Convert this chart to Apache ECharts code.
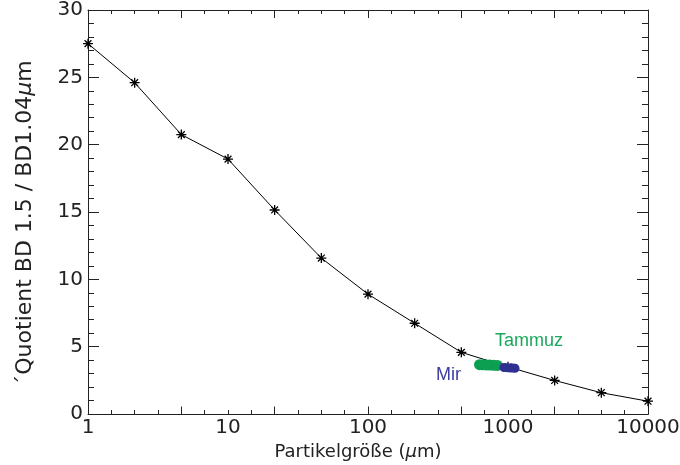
<!DOCTYPE html>
<html><head><meta charset="utf-8">
<script src="https://cdn.jsdelivr.net/npm/echarts@6/dist/echarts.min.js"></script>
<style>html,body{margin:0;padding:0;background:#fff}#c{width:680px;height:465px}</style>
</head><body><div id="c"></div>
<script>
// ---- data ----
const particleSizes = [1, 2.154, 4.642, 10, 21.54, 46.42, 100, 215.4, 464.2, 1000, 2154, 4642, 10000];
const quotientValues = [27.5, 24.6, 20.75, 18.93, 15.15, 11.58, 8.9, 6.74, 4.58, 3.5, 2.49, 1.58, 0.95];
const tammuzX = [626, 660, 700, 740, 790, 841];
const tammuzY = [3.66, 3.65, 3.64, 3.63, 3.62, 3.61];
const mirX = [936, 980, 1030, 1080, 1122];
const mirY = [3.45, 3.44, 3.42, 3.41, 3.40];
const xTickLabels = [1, 10, 100, 1000, 10000];
const yTickValues = [0, 5, 10, 15, 20, 25, 30];
// x tick marks: 6 small steps per decade over 4 decades, long mark every 4 steps
const xTickSteps = 24, xMajorEvery = 4;
const xStepNames = Array.from({length: xTickSteps + 1}, (_, i) => String(i));

const zip = (a, b) => a.map((v, i) => [v, b[i]]);
const FONT = "'DejaVu Sans', sans-serif";
const AX = '#222';
const asterisk = 'path://M5,0L5,10M0,5L10,5M1.6,1.6L8.4,8.4M1.6,8.4L8.4,1.6';

const chart = echarts.init(document.getElementById('c'), null, {renderer: 'canvas'});
chart.setOption({
  animation: false,
  backgroundColor: '#fff',
  grid: {left: 88, right: 32, top: 10, bottom: 51, outerBoundsMode: 'none'},
  xAxis: [
    {
      type: 'log', logBase: 10, min: xTickLabels[0], max: xTickLabels[xTickLabels.length - 1],
      position: 'bottom',
      axisLine: {show: true, onZero: false, lineStyle: {color: AX, width: 1}},
      axisTick: {show: false}, splitLine: {show: false}, minorTick: {show: false},
      axisLabel: {
        show: true, margin: 4, color: AX, fontFamily: FONT, fontSize: 20,
        showMinLabel: true, showMaxLabel: true,
        formatter: v => {
          const r = Math.round(v);
          return xTickLabels.indexOf(r) >= 0 ? String(r) : '';
        }
      },
      name: 'Partikelgröße ({i|μ}m)', nameLocation: 'middle', nameGap: 25,
      nameTextStyle: {color: AX, fontFamily: FONT, fontSize: 18, padding: [0, 20, 0, 0],
        rich: {i: {fontStyle: 'italic', fontFamily: FONT, fontSize: 18, color: AX}}}
    },
    {type: 'value', position: 'bottom', min: 0, max: xTickSteps, interval: 1, offset: 0,
     axisLine: {show: false, onZero: false}, splitLine: {show: false},
     axisLabel: {show: true, color: 'rgba(0,0,0,0)', fontSize: 6},
     axisTick: {show: true, inside: true, length: 4, lineStyle: {color: AX}}},
    {type: 'value', position: 'bottom', min: 0, max: xTickSteps, interval: xMajorEvery, offset: 0.5,
     axisLine: {show: false, onZero: false}, splitLine: {show: false},
     axisLabel: {show: false},
     axisTick: {show: true, inside: true, length: 8, lineStyle: {color: AX}}},
    {type: 'value', position: 'top', min: 0, max: xTickSteps, interval: 1, offset: 0,
     axisLine: {show: true, onZero: false, lineStyle: {color: AX}}, splitLine: {show: false},
     axisLabel: {show: false},
     axisTick: {show: true, inside: true, length: 4, lineStyle: {color: AX}}},
    {type: 'category', position: 'top', data: xStepNames, boundaryGap: false, offset: 0,
     axisLine: {show: false, onZero: false}, splitLine: {show: false},
     axisLabel: {show: false},
     axisTick: {show: true, inside: true, length: 8, interval: xMajorEvery - 1, lineStyle: {color: AX}}}
  ],
  yAxis: [
    {
      type: 'value', position: 'left', min: yTickValues[0], max: yTickValues[yTickValues.length - 1], interval: 5,
      axisLine: {show: true, onZero: false, lineStyle: {color: AX, width: 1}},
      axisTick: {show: true, inside: true, length: 11, lineStyle: {color: AX}},
      minorTick: {show: true, splitNumber: 5, length: 6, lineStyle: {color: AX}},
      splitLine: {show: false},
      axisLabel: {margin: 5, color: AX, fontFamily: FONT, fontSize: 20},
      name: '´Quotient BD 1.5 / BD1.04{i|μ}m', nameLocation: 'middle', nameGap: 52, nameRotate: 90,
      nameTextStyle: {color: AX, fontFamily: FONT, fontSize: 22, padding: [0, 22, 0, 0],
        rich: {i: {fontStyle: 'italic', fontFamily: FONT, fontSize: 22, color: AX}}}
    },
    {
      type: 'value', position: 'right', min: 0, max: 30, interval: 5,
      axisLine: {show: true, onZero: false, lineStyle: {color: AX, width: 1}},
      axisTick: {show: true, inside: true, length: 11, lineStyle: {color: AX}},
      minorTick: {show: true, splitNumber: 5, length: 6, lineStyle: {color: AX}},
      splitLine: {show: false}, axisLabel: {show: false}
    }
  ],
  series: [
    {
      type: 'line', xAxisIndex: 0, yAxisIndex: 0,
      data: zip(particleSizes, quotientValues),
      symbol: asterisk, symbolSize: 10, showAllSymbol: true,
      lineStyle: {color: '#000', width: 1},
      itemStyle: {color: '#000', borderColor: '#000', borderWidth: 1.3},
      z: 3
    },
    {
      name: 'Tammuz', type: 'scatter', xAxisIndex: 0, yAxisIndex: 0,
      data: zip(tammuzX, tammuzY), symbol: 'circle', symbolSize: 11,
      itemStyle: {color: '#0c9f52', opacity: 1}, z: 5
    },
    {
      name: 'Mir', type: 'scatter', xAxisIndex: 0, yAxisIndex: 0,
      data: zip(mirX, mirY), symbol: 'circle', symbolSize: 9,
      itemStyle: {color: '#2e3192', opacity: 1}, z: 5
    },
    {type: 'line', xAxisIndex: 3, yAxisIndex: 0, data: [], silent: true}
  ],
  graphic: [
    {type: 'text', left: 495, top: 332, style: {text: 'Tammuz', fill: '#1aa85c', font: "18px 'Liberation Sans', sans-serif"}},
    {type: 'text', left: 436, top: 366, style: {text: 'Mir', fill: '#3c3ca0', font: "18px 'Liberation Sans', sans-serif"}}
  ]
});
</script>
</body></html>
